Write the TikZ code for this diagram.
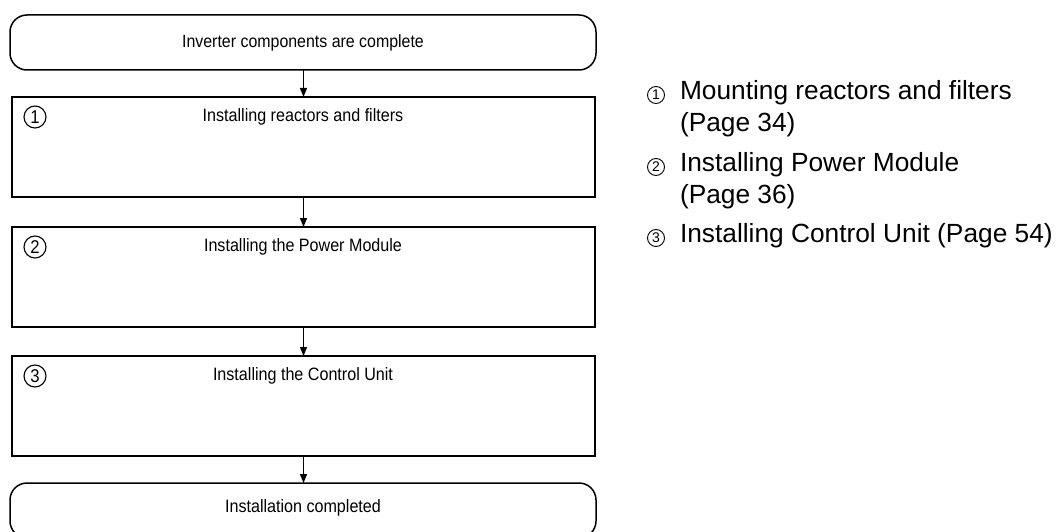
\documentclass[tikz,border=0pt]{standalone}
\usepackage{fontspec}
\setmainfont{Liberation Sans}
\newfontfamily\narrowfont[FakeStretch=0.9]{Liberation Sans}
\usetikzlibrary{arrows.meta}
\begin{document}
\begin{tikzpicture}[x=1pt,y=-1pt,
  every node/.style={inner sep=0pt, outer sep=0pt},
  terminal/.style={draw, line width=1.5pt, rounded corners=17pt,
    minimum width=586pt, minimum height=55pt, font=\narrowfont\fontsize{17.7}{21}\selectfont},
  stepbox/.style={draw, line width=1.5pt, minimum width=583pt, minimum height=100pt},
  steptext/.style={font=\narrowfont\fontsize{17.9}{21}\selectfont},
  stepnum/.style={draw, circle, line width=1.1pt, minimum size=22pt,
    font=\narrowfont\fontsize{18.5}{20}\selectfont},
  listnum/.style={draw, circle, line width=0.9pt, minimum size=17pt,
    font=\fontsize{14}{15}\selectfont},
  listtext/.style={anchor=north west, align=left,
    font=\fontsize{26.3}{32}\selectfont},
  flow/.style={line width=1.3pt, -{Triangle[length=9pt,width=7pt]}}
]
\useasboundingbox (0,0) rectangle (1058,532);
\clip (0,0) rectangle (1058,532);

% start and end terminals
\node[terminal] (start) at (303,42.5) {Inverter components are complete};
\node[terminal] (finish) at (303,510.5) {};
\node[steptext] (finishtxt) at (303,508) {Installation completed};

% the three installation steps
\node[stepbox] (s1) at (303.5,147) {};
\node[stepbox] (s2) at (303.5,277) {};
\node[stepbox] (s3) at (303.5,406) {};

\node[stepnum] (n1) at (35,117) {1};
\node[stepnum] (n2) at (35,247) {2};
\node[stepnum] (n3) at (35,376) {3};

\node[steptext] (t1) at (303,117) {Installing reactors and filters};
\node[steptext] (t2) at (303,247) {Installing the Power Module};
\node[steptext] (t3) at (303,376) {Installing the Control Unit};

% connectors
\draw[flow] (start.south -| s1.north) -- (s1.north);
\draw[flow] (s1.south) -- (s2.north);
\draw[flow] (s2.south) -- (s3.north);
\draw[flow] (s3.south) -- (finish.north -| s3.south);

% legend
\node[listnum] (l1) at (656,95) {1};
\node[listnum] (l2) at (656,167) {2};
\node[listnum] (l3) at (656,238) {3};
\node[listtext] (lt1) at (680,80) {Mounting reactors and filters\\(Page 34)};
\node[listtext] (lt2) at (680,152) {Installing Power Module\\(Page 36)};
\node[listtext] (lt3) at (680,223) {Installing Control Unit (Page 54)};
\end{tikzpicture}
\end{document}
